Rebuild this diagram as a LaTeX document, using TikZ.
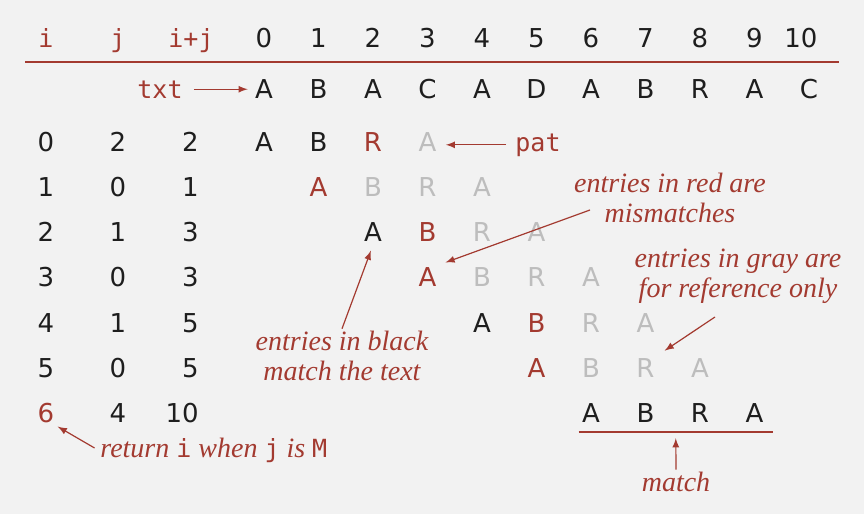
\documentclass[tikz,border=0pt]{standalone}
\usepackage{fontspec}
\setmainfont{Liberation Serif}
\setsansfont{DejaVu Sans}
\setmonofont{DejaVu Sans Mono}
\usetikzlibrary{positioning,calc}

\definecolor{bgc}{HTML}{F2F2F2}
\definecolor{redc}{HTML}{A33A30}
\definecolor{grayc}{HTML}{BDBDBD}
\definecolor{inkc}{HTML}{1E1E1E}

\newcommand{\cw}[1]{{\upshape\ttfamily\fontsize{12.5}{14}\selectfont #1}}

\tikzset{
  cell/.style={font=\sffamily\fontsize{13}{15}\selectfont, inner sep=1.5pt, text=inkc, anchor=base},
  code/.style={font=\ttfamily\fontsize{12.5}{14}\selectfont, text=redc, inner sep=1.5pt, anchor=base},
  note/.style={font=\itshape\fontsize{14}{15}\selectfont, text=redc, align=center, inner sep=1pt},
  pointer/.style={->, draw=redc, line width=0.6pt},
  rule/.style={draw=redc, line width=1pt},
}

\begin{document}
\begin{tikzpicture}[x=0.5pt, y=-0.5pt, >=latex]
            \fill[bgc] (0,0) rectangle (864,514);
            \useasboundingbox (0,0) rectangle (864,514);

            % header
            \node[code] (hi) at (46,47) {i};
            \node[code] (hj) at (118,47) {j};
            \node[code] (hij) at (191,47) {i+j};
            \foreach \k in {0,...,9}
                \node[cell] (h\k) at (264+54.5*\k,47) {\k};
            \node[cell] (h10) at (801,47) {10};
            \draw[rule] (25,62) -- (839,62);

            % text
            \foreach \c [count=\k from 0] in {A,B,A,C,A,D,A,B,R,A,C}
                \node[cell] (t\k) at (264+54.5*\k,98) {\c};
            \node[code] (txt) at (160,98) {txt};
            \draw[pointer, shorten <=4pt, shorten >=2pt] (txt.east) -- (txt.east -| t0.west);

            % rows of the search
            \foreach \r/\i/\j/\s/\ic/\pat in {
                0/0/2/2/inkc/{A/inkc,B/inkc,R/redc,A/grayc},
                1/1/0/1/inkc/{A/redc,B/grayc,R/grayc,A/grayc},
                2/2/1/3/inkc/{A/inkc,B/redc,R/grayc,A/grayc},
                3/3/0/3/inkc/{A/redc,B/grayc,R/grayc,A/grayc},
                4/4/1/5/inkc/{A/inkc,B/redc,R/grayc,A/grayc},
                5/5/0/5/inkc/{A/redc,B/grayc,R/grayc,A/grayc},
                6/6/4/10/redc/{A/inkc,B/inkc,R/inkc,A/inkc}}
            {
                \node[cell, text=\ic] (i\r) at (46,151+45.3*\r) {\i};
                \node[cell] (j\r) at (118,151+45.3*\r) {\j};
                \node[cell, anchor=base east] (s\r) at (202,151+45.3*\r) {\s};
                \foreach \c/\col [count=\k from 0] in \pat
                    \node[cell, text=\col] (p\r-\k) at (264+54.5*\i+54.5*\k,151+45.3*\r) {\c};
            }

            \node[code] (pat) at (538,151) {pat};
            \draw[pointer, shorten <=3pt, shorten >=3pt] (pat.west) -- (pat.west -| p0-3.east);

            % notes
            \node[note] (rednote) at (670,198) {entries in red are\\mismatches};
            \coordinate (redtail) at ($(rednote.center)+(-80,12)$);
            \draw[pointer, shorten >=3pt] (redtail) -- (p3-0.north east);

            \node[note] (graynote) at (738,276) {entries in gray are\\for reference only};
            \coordinate (graytail) at ($(graynote.center)+(-23,41)$);
            \draw[pointer, shorten >=4pt] (graytail) -- (p5-2.north east);

            \node[note] (blacknote) at (342,356) {entries in black\\match the text};
            \draw[pointer, shorten >=3pt] (blacknote.north) -- (p2-0.south);

            \node[note, anchor=west] (retnote) at (98,450) {return \cw{i} when \cw{j} is \cw{M}};
            \draw[pointer, shorten <=2pt] (retnote.west) -- (i6.south east);

            % match
            \coordinate (mleft) at ($(p6-0.south west)+(0,6)$);
            \coordinate (mright) at ($(p6-3.south east)+(6,6)$);
            \draw[rule] (mleft) -- (mright);
            \coordinate (mmid) at ($(mleft)!0.5!(mright)$);
            \node[note] (matchnote) at (676,482) {match};
            \draw[pointer, shorten >=3pt] (matchnote.north) -- (mmid);
\end{tikzpicture}
\end{document}
